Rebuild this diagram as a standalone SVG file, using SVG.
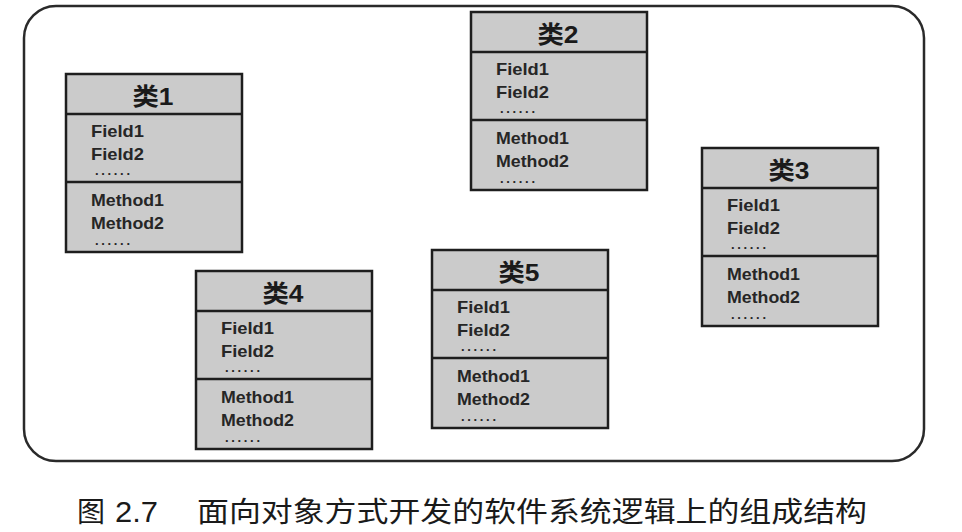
<svg xmlns="http://www.w3.org/2000/svg" width="962" height="532" viewBox="0 0 962 532">
<style>
.frame{fill:none;stroke:#2a2a2a;stroke-width:2.5}
.box{fill:#cbcbcb;stroke:#1e1e1e;stroke-width:2.5}
.sep{stroke:#1e1e1e;stroke-width:2.5}
.title{font-family:"Liberation Sans","Noto Sans CJK SC",sans-serif;font-weight:bold;font-size:24px;fill:#1a1a1a;text-anchor:middle}
.item{font-family:"Liberation Sans",Arial,sans-serif;font-weight:bold;font-size:16.5px;fill:#262626}
.dots{font-family:"Liberation Sans",Arial,sans-serif;font-weight:bold;font-size:13px;fill:#262626}
.cap{font-family:"Noto Sans CJK SC","Liberation Sans",sans-serif;font-size:28px;fill:#1a1a1a}
.num{font-family:"Liberation Sans",Arial,sans-serif;font-size:29px;fill:#1a1a1a}
</style>
<defs>
<g id="cls">
<rect class="box" x="0" y="0" width="176" height="178"/>
<line class="sep" x1="0" y1="40" x2="176" y2="40"/>
<line class="sep" x1="0" y1="108" x2="176" y2="108"/>
<text class="item" x="25" y="63" textLength="53" lengthAdjust="spacingAndGlyphs">Field1</text>
<text class="item" x="25" y="86" textLength="53" lengthAdjust="spacingAndGlyphs">Field2</text>
<text class="dots" x="29" y="101" textLength="35" lengthAdjust="spacing">......</text>
<text class="item" x="25" y="132" textLength="73" lengthAdjust="spacingAndGlyphs">Method1</text>
<text class="item" x="25" y="155" textLength="73" lengthAdjust="spacingAndGlyphs">Method2</text>
<text class="dots" x="29" y="171" textLength="35" lengthAdjust="spacing">......</text>
</g>
</defs>
<rect x="0" y="0" width="962" height="532" fill="#ffffff"/>
<rect class="frame" x="24" y="6" width="900" height="455" rx="32" ry="32"/>
<g id="class1" transform="translate(66,74)">
<use href="#cls"/>
<text class="title" x="87" y="31" textLength="41" lengthAdjust="spacingAndGlyphs">类1</text>
</g>
<g id="class2" transform="translate(471,12)">
<use href="#cls"/>
<text class="title" x="87" y="31" textLength="41" lengthAdjust="spacingAndGlyphs">类2</text>
</g>
<g id="class3" transform="translate(702,148)">
<use href="#cls"/>
<text class="title" x="87" y="31" textLength="41" lengthAdjust="spacingAndGlyphs">类3</text>
</g>
<g id="class4" transform="translate(196,271)">
<use href="#cls"/>
<text class="title" x="87" y="31" textLength="41" lengthAdjust="spacingAndGlyphs">类4</text>
</g>
<g id="class5" transform="translate(432,250)">
<use href="#cls"/>
<text class="title" x="87" y="31" textLength="41" lengthAdjust="spacingAndGlyphs">类5</text>
</g>
<g id="connectors"></g>
<g id="caption">
<text class="cap" x="77" y="522">图</text>
<text class="num" x="115" y="522" textLength="43" lengthAdjust="spacingAndGlyphs">2.7</text>
<text class="cap" x="197" y="522" textLength="670" lengthAdjust="spacingAndGlyphs">面向对象方式开发的软件系统逻辑上的组成结构</text>
</g>
</svg>
